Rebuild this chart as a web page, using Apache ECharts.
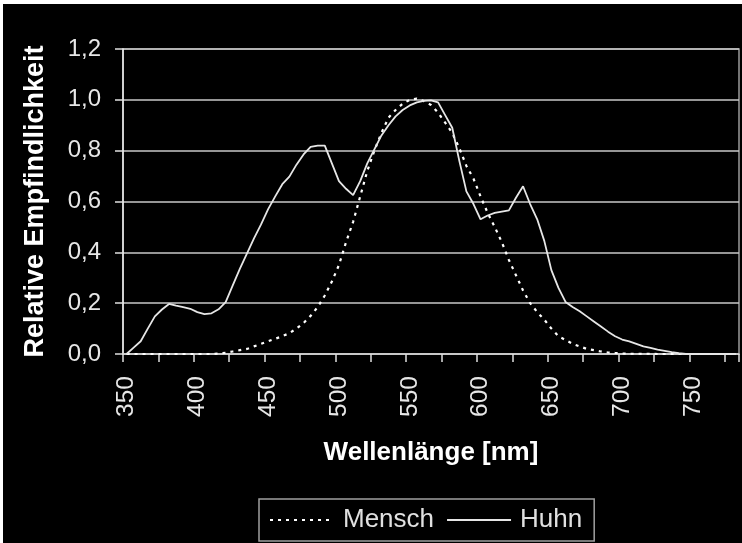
<!DOCTYPE html>
<html><head><meta charset="utf-8">
<script src="https://cdn.jsdelivr.net/npm/echarts@6/dist/echarts.min.js"></script>
<style>
html,body{margin:0;padding:0;background:#fff;width:742px;height:543px;overflow:hidden}
#c{position:absolute;left:3px;top:4px;width:739px;height:539px;background:#000}
</style></head><body><div id="c"></div>
<script>
// Wavelengths 350..780 nm in 5 nm steps
const wavelengths = [];
for (let w = 350; w <= 780; w += 5) wavelengths.push(String(w));

const mensch = [
0,0,0,0,0,0,0,0,0,0,0,0,0,0.002,            // 350-415
0.005,0.01,0.015,0.02,0.03,0.04,0.05,0.06,0.07,0.082, // 420-465
0.1,0.122,0.15,0.185,0.23,0.285,0.35,0.44,0.52,0.62,   // 470-515
0.72,0.8,0.87,0.93,0.96,0.985,1.0,1.005,0.995,0.98,    // 520-565
0.95,0.91,0.87,0.81,0.74,0.69,0.62,0.555,0.5,0.44,     // 570-615
0.37,0.31,0.25,0.2,0.165,0.135,0.1,0.07,0.055,0.04,    // 620-665
0.03,0.02,0.015,0.01,0.006,0.004,0.002,0.001,0.001,0.001, // 670-715
0.001,0,0,0,0,0,0,0,0,0,0,0,0                          // 720-780
];

const huhn = [
0,0.025,0.05,0.1,0.148,0.175,0.197,0.19,0.184,0.178,   // 350-395
0.165,0.157,0.16,0.176,0.204,0.27,0.335,0.395,0.455,0.51, // 400-445
0.57,0.62,0.668,0.698,0.745,0.785,0.815,0.82,0.82,0.75,  // 450-495
0.68,0.65,0.625,0.68,0.75,0.805,0.86,0.9,0.935,0.96,     // 500-545
0.978,0.99,0.996,0.998,0.99,0.94,0.89,0.76,0.64,0.59,    // 550-595
0.53,0.545,0.555,0.56,0.565,0.615,0.66,0.59,0.53,0.445,  // 600-645
0.33,0.26,0.205,0.185,0.168,0.148,0.128,0.108,0.088,0.07, // 650-695
0.057,0.05,0.04,0.03,0.024,0.017,0.012,0.007,0.003,0,    // 700-745
0,0,0,0,0,0,0                                             // 750-780
];

const yTickLabels = ['0,0','0,2','0,4','0,6','0,8','1,0','1,2'];
const seriesNames = ['Mensch','Huhn'];

const FONT = 'Liberation Sans, Arial, sans-serif';
const chart = echarts.init(document.getElementById('c'));
chart.setOption({
  backgroundColor: '#000',
  animation: false,
  grid: {left: 120, right: 3, top: 45, bottom: 189, show: true, borderColor: '#9a9a9a', borderWidth: 1.5, backgroundColor: 'transparent'},
  legend: {
    left: 256, top: 495,
    data: seriesNames,
    itemWidth: 64, itemHeight: 14, itemGap: 12,
    padding: [8, 12, 8, 10],
    borderColor: '#a0a0a0', borderWidth: 1.5,
    itemStyle: {opacity: 0},
    textStyle: {color: '#e0e0e0', fontSize: 26, fontFamily: FONT, padding: [0, 0, 0, 4]}
  },
  xAxis: {
    type: 'category',
    data: wavelengths,
    boundaryGap: true,
    name: 'Wellenlänge [nm]',
    nameLocation: 'middle',
    nameGap: 86,
    nameTextStyle: {color: '#ffffff', fontSize: 26, fontWeight: 'bold', fontFamily: FONT},
    axisLine: {lineStyle: {color: '#d0d0d0', width: 1.5}},
    axisTick: {show: true, interval: 4, length: 8, lineStyle: {color: '#e0e0e0', width: 1.5}},
    axisLabel: {interval: 9, rotate: 90, margin: 22, color: '#e6e6e6', fontSize: 24.5, fontFamily: FONT},
    splitLine: {show: false}
  },
  yAxis: {
    type: 'value',
    min: 0, max: 1.2, interval: 0.2,
    name: 'Relative Empfindlichkeit',
    nameLocation: 'middle',
    nameGap: 74,
    nameTextStyle: {color: '#ffffff', fontSize: 27, fontWeight: 'bold', fontFamily: FONT},
    axisLine: {show: true, lineStyle: {color: '#f0f0f0', width: 1.5}},
    axisTick: {show: true, length: 8, lineStyle: {color: '#e0e0e0', width: 1.5}},
    axisLabel: {margin: 22, color: '#e6e6e6', fontSize: 24, fontFamily: FONT,
      formatter: (v) => yTickLabels[Math.round(v / 0.2)]},
    splitLine: {show: true, lineStyle: {color: '#c8c8c8', width: 1.5}}
  },
  series: [
    {name: seriesNames[0], type: 'line', data: mensch, showSymbol: false, symbol: 'none',
     lineStyle: {color: '#ffffff', width: 2.2, type: [3, 5]}, itemStyle: {color: '#ffffff'}},
    {name: seriesNames[1], type: 'line', data: huhn, showSymbol: false, symbol: 'none',
     lineStyle: {color: '#e6e6e6', width: 1.8, type: 'solid'}, itemStyle: {color: '#e6e6e6'}}
  ]
});
</script></body></html>
